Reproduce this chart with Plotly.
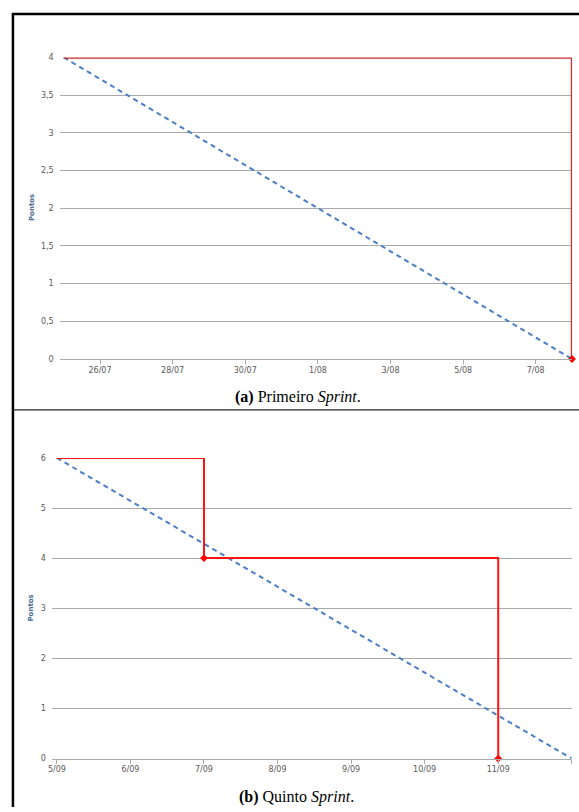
import plotly.graph_objects as go
import pandas as pd

W, H = 579, 812

# ---------------- data ----------------
# Panel (a) Primeiro Sprint
ideal_x_a = ["2015-07-25", "2015-08-08"]
ideal_y_a = [4, 0]
real_x_a = ["2015-07-25", "2015-08-08", "2015-08-08"]
real_y_a = [4, 4, 0]
mark_x_a = ["2015-08-08"]
mark_y_a = [0]
ticks_a = ["2015-07-26", "2015-07-28", "2015-07-30", "2015-08-01",
           "2015-08-03", "2015-08-05", "2015-08-07"]
ticktext_a = ["26/07", "28/07", "30/07", "1/08", "3/08", "5/08", "7/08"]

# Panel (b) Quinto Sprint
ideal_x_b = ["2015-09-05", "2015-09-12"]
ideal_y_b = [6, 0]
real_x_b = ["2015-09-05", "2015-09-07", "2015-09-07", "2015-09-11", "2015-09-11"]
real_y_b = [6, 6, 4, 4, 0]
mark_x_b = ["2015-09-07", "2015-09-11"]
mark_y_b = [4, 0]
ticks_b = ["2015-09-05", "2015-09-06", "2015-09-07", "2015-09-08",
           "2015-09-09", "2015-09-10", "2015-09-11", "2015-09-12"]
ticktext_b = ["5/09", "6/09", "7/09", "8/09", "9/09", "10/09", "11/09", "12/09"]

# ---------------- styles ----------------
BLUE = "#4a7ec6"
RED_A = "#d02a2a"
RED_B = "#ff1414"
GRID = "#a9a9a9"
TICKC = "#595959"
FONT = "DejaVu Sans"


def px_x(p):
    return p / W


def px_y(p):
    return (H - p) / H


fig = go.Figure()

# panel a traces
fig.add_trace(go.Scatter(x=ideal_x_a, y=ideal_y_a, mode="lines",
                         line=dict(color=BLUE, width=2, dash="5px,4px"),
                         xaxis="x", yaxis="y", hoverinfo="skip"))
fig.add_trace(go.Scatter(x=real_x_a, y=real_y_a, mode="lines",
                         line=dict(color=RED_A, width=2.5),
                         xaxis="x", yaxis="y", hoverinfo="skip"))
fig.add_trace(go.Scatter(x=mark_x_a, y=mark_y_a, mode="markers",
                         marker=dict(color="#ff0000", size=6, symbol="diamond"),
                         cliponaxis=False, xaxis="x", yaxis="y", hoverinfo="skip"))

# panel b traces
fig.add_trace(go.Scatter(x=ideal_x_b, y=ideal_y_b, mode="lines",
                         line=dict(color=BLUE, width=2, dash="5px,4px"),
                         xaxis="x2", yaxis="y2", hoverinfo="skip"))
fig.add_trace(go.Scatter(x=real_x_b, y=real_y_b, mode="lines",
                         line=dict(color=RED_B, width=2),
                         xaxis="x2", yaxis="y2", hoverinfo="skip"))
fig.add_trace(go.Scatter(x=mark_x_b, y=mark_y_b, mode="markers",
                         marker=dict(color="#ff0000", size=6, symbol="diamond"),
                         cliponaxis=False, xaxis="x2", yaxis="y2", hoverinfo="skip"))

range_a = [pd.Timestamp(real_x_a[0]) - pd.Timedelta(hours=2.7), pd.Timestamp(real_x_a[-1])]
range_b = [pd.Timestamp(real_x_b[0]) - pd.Timedelta(hours=1.6), pd.Timestamp(ideal_x_b[-1])]

xcommon = dict(type="date", showgrid=False, showline=True, linecolor=GRID, linewidth=1,
               ticks="outside", ticklen=4, tickcolor=GRID, tickwidth=1,
               tickfont=dict(family=FONT, size=8, color=TICKC), zeroline=False,
               ticklabelstandoff=-1)
ycommon = dict(showgrid=True, gridcolor=GRID, gridwidth=1, zeroline=False,
               showline=False, ticks="", tickfont=dict(family=FONT, size=8, color=TICKC),
               ticklabelstandoff=5)

fig.update_layout(
    width=W, height=H,
    margin=dict(l=0, r=0, t=0, b=0),
    paper_bgcolor="white", plot_bgcolor="white",
    showlegend=False,
    separators=",.",
    xaxis=dict(domain=[px_x(56), px_x(572)], range=range_a, anchor="y",
               tickvals=ticks_a, ticktext=ticktext_a, **xcommon),
    yaxis=dict(domain=[px_y(359), px_y(54)], range=[0, 4], dtick=0.5, anchor="x",
               **ycommon),
    xaxis2=dict(domain=[px_x(48.3), px_x(571.7)], range=range_b, anchor="y2",
                tickvals=ticks_b, ticktext=ticktext_b, **xcommon),
    yaxis2=dict(domain=[px_y(763), px_y(459)], range=[0, 6], dtick=1, anchor="x2",
                **ycommon),
)

# y-axis titles
for yc in (206, 611):
    fig.add_annotation(text="<b>Pontos</b>", textangle=-90, showarrow=False,
                       xref="paper", yref="paper", x=px_x(27.5), y=px_y(yc),
                       xanchor="center", yanchor="middle",
                       font=dict(family=FONT, size=7, color="#4a6a92"))

# captions
fig.add_annotation(text="<b>(a)</b> Primeiro <i>Sprint</i>.", showarrow=False,
                   xref="paper", yref="paper", x=px_x(296), y=px_y(397),
                   xanchor="center", yanchor="middle",
                   font=dict(family="Liberation Serif", size=16, color="black"))
fig.add_annotation(text="<b>(b)</b> Quinto <i>Sprint</i>.", showarrow=False,
                   xref="paper", yref="paper", x=px_x(295), y=px_y(802),
                   xanchor="center", yanchor="middle",
                   font=dict(family="Liberation Serif", size=16, color="black"))

# frame lines
fig.add_shape(type="line", xref="paper", yref="paper",
              x0=px_x(8), x1=1, y0=px_y(10), y1=px_y(10),
              line=dict(color="black", width=2.5))
fig.add_shape(type="line", xref="paper", yref="paper",
              x0=px_x(9), x1=px_x(9), y0=px_y(9), y1=0,
              line=dict(color="black", width=2.5))
fig.add_shape(type="line", xref="paper", yref="paper",
              x0=px_x(9), x1=1, y0=px_y(410.5), y1=px_y(410.5),
              line=dict(color="#222222", width=1.2))

fig.write_html(
    "out.html",
    config={"displayModeBar": False},
    post_script="document.body.style.margin='0';document.body.style.overflow='hidden';"
                "document.documentElement.style.overflow='hidden';",
)
